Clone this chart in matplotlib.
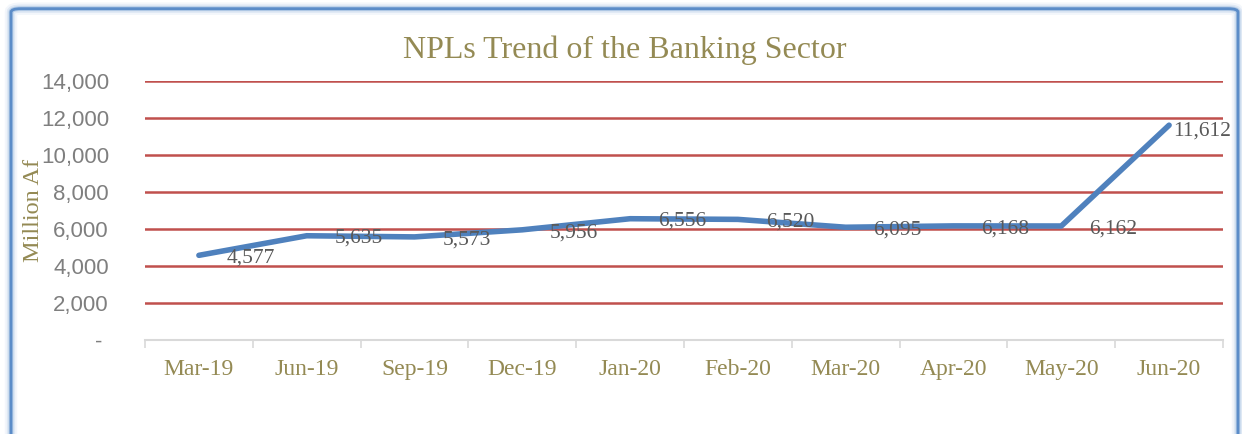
import matplotlib.pyplot as plt
from matplotlib.patches import FancyBboxPatch
from matplotlib.ticker import FuncFormatter

# NPL stock of the banking sector, million Af
months = ["Mar-19", "Jun-19", "Sep-19", "Dec-19", "Jan-20",
          "Feb-20", "Mar-20", "Apr-20", "May-20", "Jun-20"]
npl = [4577, 5635, 5573, 5956, 6556, 6520, 6095, 6168, 6162, 11612]
y_ticks = [0, 2000, 4000, 6000, 8000, 10000, 12000, 14000]

olive = "#948A54"
grey_txt = "#595959"
blue = "#4F81BD"
red = "#C0504D"

fig = plt.figure(figsize=(12.42, 4.34), dpi=100)

# rounded frame with a soft glow
for lw, a in [(9, 0.08), (6, 0.15), (3.5, 0.35), (2, 1.0)]:
    fig.patches.append(FancyBboxPatch((11 / 1242, -0.05), 1227 / 1242, 1.03,
                                      boxstyle="round,pad=0,rounding_size=0.008",
                                      transform=fig.transFigure, fill=False,
                                      edgecolor="#6A98D0" if a < 1 else "#5B8CC8",
                                      linewidth=lw, alpha=a, zorder=-1))

ax = fig.add_axes([145 / 1242, 1 - 340 / 434, 1078 / 1242, 259 / 434])
x = list(range(len(months)))
ax.plot(x, npl, color=blue, linewidth=4, solid_capstyle="round",
        solid_joinstyle="round", zorder=3)

ax.set_xlim(-0.5, len(months) - 0.5)
ax.set_ylim(0, 14000)
ax.set_yticks(y_ticks)
ax.yaxis.set_major_formatter(FuncFormatter(lambda v, p: "- " if v == 0 else f"{int(v):,}"))
for v in y_ticks[1:]:
    ax.axhline(v, color=red, linewidth=1.8, zorder=1)

ax.set_xticks(x)
ax.set_xticklabels(months, family="Liberation Serif", fontsize=17, color=olive)
ax.set_xticks([i - 0.5 for i in range(len(months) + 1)], minor=True)
ax.tick_params(axis="x", which="major", length=0, pad=14)
ax.tick_params(axis="x", which="minor", length=6, width=1.2, color="#D9D9D9")
ax.tick_params(axis="y", length=0, pad=26, labelsize=16, labelcolor="#7F7F7F")
for lab in ax.get_yticklabels():
    lab.set_family("Liberation Sans")

for s in ["top", "right", "left"]:
    ax.spines[s].set_visible(False)
ax.spines["bottom"].set_color("#D9D9D9")
ax.spines["bottom"].set_linewidth(1.5)

ax.set_ylabel("Million Af", family="Liberation Serif", fontsize=17.5, color=olive)
ax.yaxis.set_label_coords(-0.094, 0.5)

# value labels to the right of each point
for i, v in enumerate(npl):
    dx, dy = (3, -4) if i == len(npl) - 1 else (20, -2)
    ax.annotate(f"{v:,}", (i, v), xytext=(dx, dy), textcoords="offset points",
                ha="left", va="center", family="Liberation Serif", fontsize=15.5,
                color=grey_txt, zorder=4)

fig.text(625 / 1242, 1 - 50 / 434, "NPLs Trend of the Banking Sector",
         family="Liberation Serif", fontsize=23, color=olive, ha="center", va="center")

fig.savefig("out.png", dpi=100)
